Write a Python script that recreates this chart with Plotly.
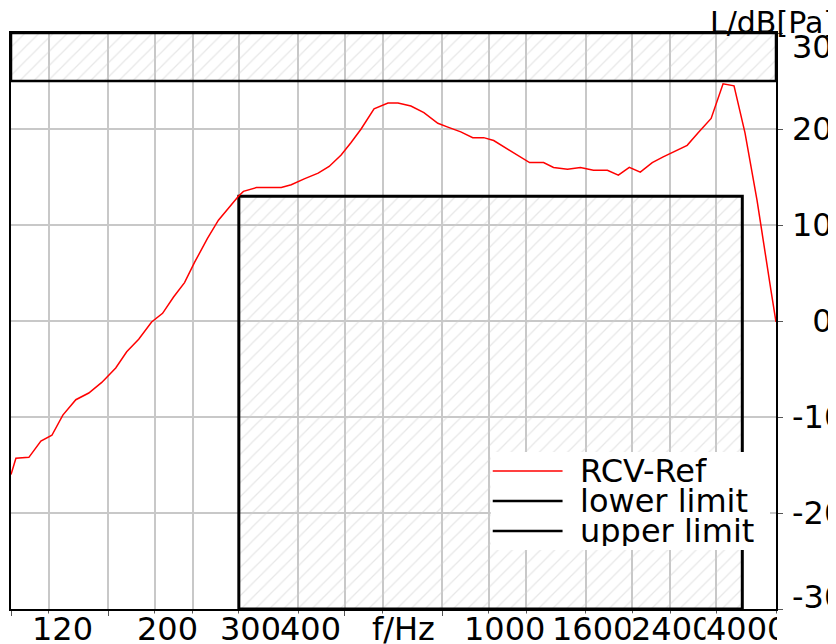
import math
import plotly.graph_objects as go

# ---------------- data ----------------
rcv_freq = [100, 102.4, 109, 115.5, 121.8, 128.4, 136.7, 145.5, 154.9, 165.7,
            174.7, 185.1, 197, 207.7, 219, 230.9, 242.3, 257.9, 271.9, 286.7,
            299.4, 306.7, 326.5, 368.1, 386.3, 411.2, 439.8, 463.7, 491.3, 515.5,
            541, 575.8, 615.8, 646.2, 687.8, 732.3, 783.3, 821.9, 874.8, 926.8,
            977.2, 1025.4, 1096.8, 1167.5, 1219, 1304, 1368.3, 1463.5, 1558, 1658.8,
            1774.1, 1870.4, 1971.7, 2079, 2202.3, 2322, 2436.4, 2606.4, 2748, 2925.7,
            3098.9, 3267.2, 3444.6, 3650, 3904, 4000]
rcv_level = [-16.0, -14.3, -14.2, -12.5, -11.9, -9.8, -8.2, -7.5, -6.4, -4.9,
             -3.2, -1.9, -0.1, 0.8, 2.5, 4.0, 6.1, 8.6, 10.5, 11.9,
             13.0, 13.5, 13.9, 13.9, 14.2, 14.8, 15.4, 16.1, 17.3, 18.6,
             20.0, 22.1, 22.7, 22.7, 22.4, 21.7, 20.6, 20.2, 19.7, 19.1,
             19.1, 18.8, 17.9, 17.0, 16.5, 16.5, 16.0, 15.8, 16.0, 15.7,
             15.7, 15.2, 16.0, 15.5, 16.5, 17.1, 17.6, 18.3, 19.6, 21.1,
             24.7, 24.5, 19.6, 12.6, 3.2, -0.1]

lower_limit_freq = [300, 3400]
lower_limit_level = [13, 13]
upper_limit_freq = [100, 4000]
upper_limit_level = [25, 25]

x_grid_ticks = [100, 120, 160, 200, 240, 300, 400, 500, 600, 800, 1000, 1200,
                1600, 2000, 2400, 3000, 4000]
x_label_values = [120, 200, 300, 400, 1000, 1600, 2400, 4000]
x_label_text = ["120", "200", "300", "400", "1000", "1600", "2400", "4000"]
y_tick_values = [30, 20, 10, 0, -10, -20, -30]
y_tick_text = ["30", "20", "10", "\u20070", "-10", "-20", "-30"]
series_names = ["RCV-Ref", "lower limit", "upper limit"]
x_title = "f/Hz"
y_title = "L/dB[Pa]"

# ---------------- style / layout (window pixel targets) ----------------
BODY = 8                      # default page margin around the plot div
WIN_W, WIN_H = 836, 644
W, H = WIN_W - BODY, WIN_H - BODY
PLOT_L, PLOT_R, PLOT_T, PLOT_B = 9, 776, 33, 609
ML, MR = PLOT_L - BODY, WIN_W - PLOT_R
MT, MB = PLOT_T - BODY, WIN_H - PLOT_B
FONT = "DejaVu Sans"
FS = 32
TITLE_FS = 30
F_MIN, F_MAX = 100, 4000
Y_MIN, Y_MAX = -30, 30
GRID = "#c8c8c8"
x_label_shift = [-18, -19, -20, -19, -26, -35, -40, -71]
x_label_width = [None, None, None, None, None, None, None, 71]
y_label_shift = [-14, 0, 0, 0, 0, 0, 12]
series_colors = ["#ff0000", "#000000", "#000000"]
series_widths = [1.5, 2.5, 2.5]
LABEL_ROW = 629
TITLE_ROW = 23


def px(xw):
    return (xw - PLOT_L) / (PLOT_R - PLOT_L)


def py(yw):
    return (PLOT_B - yw) / (PLOT_B - PLOT_T)


hatch = dict(shape="/", fgcolor="#cfcfcf", bgcolor="rgba(0,0,0,0)", size=10, solidity=0.12)

fig = go.Figure()

# upper limit (hatched above)
ux = [upper_limit_freq[0]] + upper_limit_freq + [upper_limit_freq[-1], upper_limit_freq[0]]
uy = [Y_MAX] + upper_limit_level + [Y_MAX, Y_MAX]
fig.add_trace(go.Scatter(x=ux, y=uy, mode="lines", fill="toself",
                         fillcolor="rgba(0,0,0,0)", fillpattern=hatch,
                         line=dict(color="black", width=2.5),
                         name=series_names[2], showlegend=False, hoverinfo="skip"))

# lower limit (hatched below)
lx = [lower_limit_freq[0]] + lower_limit_freq + [lower_limit_freq[-1], lower_limit_freq[0]]
ly = [Y_MIN] + lower_limit_level + [Y_MIN, Y_MIN]
fig.add_trace(go.Scatter(x=lx, y=ly, mode="lines", fill="toself",
                         fillcolor="rgba(0,0,0,0)", fillpattern=hatch,
                         line=dict(color="black", width=3),
                         name=series_names[1], showlegend=False, hoverinfo="skip"))

# measured curve
fig.add_trace(go.Scatter(x=rcv_freq, y=rcv_level, mode="lines",
                         line=dict(color="#ff0000", width=1.5),
                         name=series_names[0], showlegend=False))

annotations = []
shapes = []
tfont = dict(family=FONT, size=FS, color="black")

# y tick labels (right side)
for v, t, s in zip(y_tick_values, y_tick_text, y_label_shift):
    annotations.append(dict(x=px(790), xref="paper", xanchor="left",
                            y=v, yref="y", yanchor="middle", yshift=s,
                            text=t, showarrow=False, font=tfont))

# y title
annotations.append(dict(x=px(708), xref="paper", xanchor="left",
                        y=py(TITLE_ROW), yref="paper", yanchor="middle",
                        text=y_title, showarrow=False,
                        font=dict(family=FONT, size=TITLE_FS, color="black")))

# x tick labels (opaque, drawn left to right so later ones cover earlier ones)
for v, t, s, w in zip(x_label_values, x_label_text, x_label_shift, x_label_width):
    ann = dict(x=math.log10(v), xref="x", xanchor="left", xshift=s,
               y=py(LABEL_ROW), yref="paper", yanchor="middle",
               text=t, showarrow=False, bgcolor="white", borderpad=0,
               height=30, valign="middle", font=tfont)
    if w is not None:
        ann["width"] = w
        ann["align"] = "left"
    annotations.append(ann)
    if t == "400":
        annotations.append(dict(x=px(370), xref="paper", xanchor="left",
                                y=py(LABEL_ROW), yref="paper", yanchor="middle",
                                text=x_title, showarrow=False, bgcolor="white",
                                borderpad=0, height=30, valign="middle", font=tfont))

# legend (white panel, line samples, labels)
shapes.append(dict(type="rect", xref="paper", yref="paper",
                   x0=px(490), x1=px(770), y0=py(550), y1=py(452),
                   fillcolor="white", line=dict(width=0), layer="above"))
for i, (name, col, wd) in enumerate(zip(series_names, series_colors, series_widths)):
    yc = 471 + 30 * i
    shapes.append(dict(type="line", xref="paper", yref="paper",
                       x0=px(492), x1=px(562), y0=py(yc), y1=py(yc),
                       line=dict(color=col, width=wd), layer="above"))
    annotations.append(dict(x=px(578), xref="paper", xanchor="left",
                            y=py(yc), yref="paper", yanchor="middle",
                            text=name, showarrow=False, bgcolor="white", borderpad=0,
                            height=30, valign="middle", font=tfont))

fig.update_layout(
    width=W, height=H, autosize=False,
    margin=dict(l=ML, r=MR, t=MT, b=MB, pad=0),
    paper_bgcolor="white", plot_bgcolor="white",
    showlegend=False,
    font=tfont,
    annotations=annotations, shapes=shapes,
    xaxis=dict(type="log", range=[math.log10(F_MIN), math.log10(F_MAX)],
               tickmode="array", tickvals=x_grid_ticks, showticklabels=False,
               ticks="outside", ticklen=5, tickcolor="#555555", tickwidth=1,
               showgrid=True, gridcolor=GRID, gridwidth=1.5,
               showline=True, linecolor="black", linewidth=2, mirror=True,
               zeroline=False, fixedrange=True),
    yaxis=dict(range=[Y_MIN, Y_MAX], side="right",
               tickmode="array", tickvals=y_tick_values, showticklabels=False,
               ticks="outside", ticklen=5, tickcolor="#555555", tickwidth=1,
               showgrid=True, gridcolor=GRID, gridwidth=1.5,
               showline=True, linecolor="black", linewidth=2, mirror=True,
               zeroline=False, fixedrange=True),
)

fig.write_html("out.html")
